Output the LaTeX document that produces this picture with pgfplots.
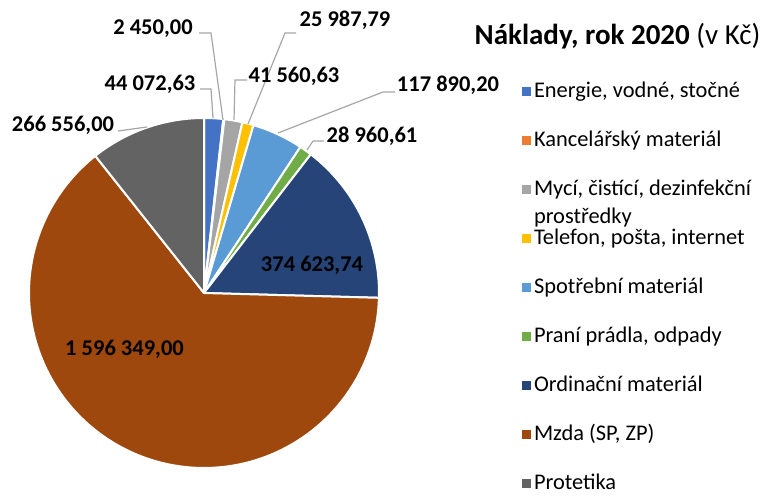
\documentclass[border=0pt]{standalone}
\usepackage{fontspec}
\setmainfont{Carlito}
\usepackage{pgfplots}
\pgfplotsset{compat=1.18}

\definecolor{cA}{HTML}{4472C4}
\definecolor{cB}{HTML}{ED7D31}
\definecolor{cC}{HTML}{A5A5A5}
\definecolor{cD}{HTML}{FFC000}
\definecolor{cE}{HTML}{5B9BD5}
\definecolor{cF}{HTML}{70AD47}
\definecolor{cG}{HTML}{264478}
\definecolor{cH}{HTML}{9E480E}
\definecolor{cI}{HTML}{636363}
\definecolor{leader}{HTML}{A6A6A6}

% costs 2020, in Kc
\def\vA{44072.63}   % Energie, vodne, stocne
\def\vB{2450.00}    % Kancelarsky material
\def\vC{41560.63}   % Myci, cistici, dezinfekcni prostredky
\def\vD{25987.79}   % Telefon, posta, internet
\def\vE{117890.20}  % Spotrebni material
\def\vF{28960.61}   % Prani pradla, odpady
\def\vG{374623.74}  % Ordinacni material
\def\vH{1596349.00} % Mzda (SP, ZP)
\def\vI{266556.00}  % Protetika
\edef\total{\fpeval{\vA+\vB+\vC+\vD+\vE+\vF+\vG+\vH+\vI}}

% start/end angles, clockwise from 12 o'clock
\def\cum{0}
\newcommand\slice[1]{%
  \expandafter\edef\csname s#1\endcsname{\fpeval{round(90-360*\cum/\total,3)}}%
  \edef\cum{\fpeval{\cum+\csname v#1\endcsname}}%
  \expandafter\edef\csname e#1\endcsname{\fpeval{round(90-360*\cum/\total,3)}}%
}
\slice{A}\slice{B}\slice{C}\slice{D}\slice{E}\slice{F}\slice{G}\slice{H}\slice{I}

\newcommand\pieslice[4]{%
  \addplot[fill=#3, draw=white, line width=2pt, line join=round,
    domain=#1:#2, samples=120]
    ({204+175*cos(x)},{204+175*sin(x)}) -- (axis cs:204,204) -- cycle;
  \addlegendentry{#4}}

\newcommand\lbl{\fontsize{22.5}{27}\selectfont\bfseries}

\begin{document}
\begin{tikzpicture}
\begin{axis}[
  width=767pt, height=497pt, scale only axis,
  xmin=0, xmax=767, ymin=0, ymax=497,
  hide axis, clip=false,
  legend image code/.code={\fill[#1, draw=none] (0pt,-4.5pt) rectangle (9pt,4.5pt);},
  legend cell align=left,
  legend style={draw=none, fill=none, inner sep=0pt, outer sep=0pt,
    at={(axis cs:521.5,415)}, anchor=north west,
    row sep=30pt, column sep=0pt,
    nodes={font=\fontsize{22.4}{28}\selectfont, text height=16pt, text depth=3pt,
      inner ysep=0pt, inner xsep=3.5pt}},
]
\pieslice{\eA}{\sA}{cA}{Energie, vodné, stočné}
\pieslice{\eB}{\sB}{cB}{Kancelářský materiál}
\pieslice{\eC}{\sC}{cC}{\begin{tabular}[t]{@{}l@{}}Mycí, čistící, dezinfekční\\prostředky\end{tabular}}
\pieslice{\eD}{\sD}{cD}{Telefon, pošta, internet}
\pieslice{\eE}{\sE}{cE}{Spotřební materiál}
\pieslice{\eF}{\sF}{cF}{Praní prádla, odpady}
\pieslice{\eG}{\sG}{cG}{Ordinační materiál}
\pieslice{\eH}{\sH}{cH}{Mzda (SP, ZP)}
\pieslice{\eI}{\sI}{cI}{Protetika}

% leader lines
\addplot[forget plot, leader, line width=1.2pt] coordinates {(199,464) (211,464) (223,377)};
\addplot[forget plot, leader, line width=1.2pt] coordinates {(200,408) (211,408) (213,379)};
\addplot[forget plot, leader, line width=1.2pt] coordinates {(247,417) (235,417) (234,377)};
\addplot[forget plot, leader, line width=1.2pt] coordinates {(296,464) (285,464) (248,373)};
\addplot[forget plot, leader, line width=1.2pt] coordinates {(118,366) (147,370)};
\addplot[forget plot, leader, line width=1.2pt] coordinates {(395,405) (383,405) (278,364)};
\addplot[forget plot, leader, line width=1.2pt] coordinates {(324,356) (313,356) (307,347)};

% data labels
\node[anchor=base, font=\lbl] at (axis cs:153,462) {2 450,00};
\node[anchor=base, font=\lbl] at (axis cs:150,406) {44 072,63};
\node[anchor=base, font=\lbl] at (axis cs:294,414) {41 560,63};
\node[anchor=base, font=\lbl] at (axis cs:345,470) {25 987,79};
\node[anchor=base, font=\lbl] at (axis cs:63,365) {266 556,00};
\node[anchor=base, font=\lbl] at (axis cs:448,405) {117 890,20};
\node[anchor=base, font=\lbl] at (axis cs:372,354) {28 960,61};
\node[anchor=base, font=\lbl] at (axis cs:312,225) {374 623,74};
\node[anchor=base, font=\lbl] at (axis cs:124.5,141) {1 596 349,00};

% title
\node[anchor=base] at (axis cs:617.5,452)
  {\fontsize{29}{34}\selectfont\textbf{Náklady, rok 2020} (v Kč)};
\end{axis}
\pgfresetboundingbox
\path (0,0) rectangle (767pt,497pt);
\end{tikzpicture}
\end{document}
